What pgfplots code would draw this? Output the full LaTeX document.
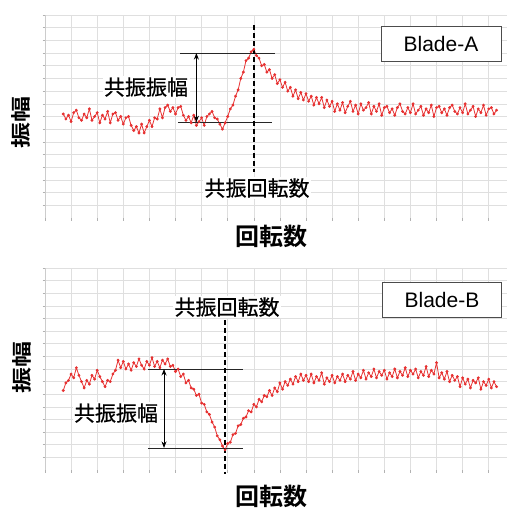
\documentclass[border=0pt]{standalone}
\usepackage{pgfplots}
\pgfplotsset{compat=1.18}
\usepackage{graphicx}
\usepackage{fontspec}
\setmainfont{Liberation Sans}
\newfontfamily\jp[BoldFont={* Bold}]{Noto Sans CJK JP}
\newfontfamily\jpm[FakeBold=0.7]{Noto Sans CJK JP}
\usetikzlibrary{arrows.meta}
\definecolor{datared}{RGB}{232,50,50}
\pgfplotsset{
  myax/.style={
    anchor=north west, scale only axis, width=462bp,
    xmin=0, xmax=17.7, ymin=0, ymax=16,
    xtick={0,...,17}, ytick={1,...,16},
    xticklabels={}, yticklabels={},
    grid=major, grid style={gray!25, line width=0.6pt},
    axis x line*=bottom, axis y line*=left,
    x axis line style={draw=none},
    y axis line style={gray!40, line width=0.6pt},
    tick style={gray!60, line width=0.6pt},
    major tick length=2.5bp, tick align=outside,
    clip=false,
  },
  dat/.style={datared, line width=0.8pt, mark=*, mark size=1pt, mark options={draw=none, fill=datared!80!black}},
}
\begin{document}
\begin{tikzpicture}
\path[use as bounding box] (0,0) rectangle (508bp,-509bp);
% ---------- top ----------
\begin{axis}[myax, at={(45bp,-15bp)}, height=203bp]
\addplot[dat] coordinates {
(0.7,8.2)(0.8,7.8)(0.9,8.1)(1.0,7.6)(1.1,8.3)(1.2,8.5)(1.3,7.9)(1.4,7.7)(1.5,8.2)(1.6,7.9)
(1.7,8.6)(1.8,7.7)(1.9,8.0)(2.0,8.3)(2.1,7.5)(2.2,8.1)(2.3,7.8)(2.4,8.4)(2.5,7.5)(2.6,8.2)
(2.7,8.3)(2.8,7.7)(2.9,8.0)(3.0,7.4)(3.1,7.9)(3.2,8.0)(3.3,7.3)(3.4,6.9)(3.5,7.2)(3.6,6.7)
(3.7,7.4)(3.8,6.7)(3.9,7.2)(4.0,7.7)(4.1,7.2)(4.2,7.9)(4.3,7.8)(4.4,8.6)(4.5,7.9)(4.6,8.7)
(4.7,8.9)(4.8,8.4)(4.9,8.7)(5.0,8.2)(5.1,8.7)(5.2,8.8)(5.3,8.1)(5.4,7.7)(5.5,8.0)(5.6,7.5)
(5.7,8.1)(5.8,7.3)(5.9,7.6)(6.0,7.9)(6.1,7.3)(6.2,8.0)(6.3,8.2)(6.4,8.4)(6.5,7.9)(6.6,7.8)
(6.7,7.4)(6.8,7.0)(6.9,7.5)(7.0,8.0)(7.1,8.6)(7.2,8.9)(7.3,9.6)(7.4,10.1)(7.5,11.0)(7.6,11.5)
(7.7,12.4)(7.8,12.6)(7.9,13.1)(8.0,13.3)(8.1,12.8)(8.2,12.6)(8.3,12.0)(8.4,12.1)(8.5,11.5)(8.6,11.7)
(8.7,11.0)(8.8,11.3)(8.9,10.6)(9.0,10.9)(9.1,10.3)(9.2,10.7)(9.3,10.0)(9.4,10.3)(9.5,9.6)(9.6,10.1)
(9.7,9.4)(9.8,9.9)(9.9,9.3)(10.0,9.8)(10.1,9.2)(10.2,9.6)(10.3,8.9)(10.4,9.5)(10.5,9.0)(10.6,9.5)
(10.7,8.7)(10.8,9.3)(10.9,8.8)(11.0,9.2)(11.1,8.4)(11.2,9.0)(11.3,8.5)(11.4,9.1)(11.5,8.3)(11.6,8.8)
(11.7,9.2)(11.8,8.4)(11.9,8.9)(12.0,8.2)(12.1,9.0)(12.2,8.5)(12.3,8.7)(12.4,9.1)(12.5,8.2)(12.6,8.8)
(12.7,8.4)(12.8,9.0)(12.9,8.1)(13.0,8.7)(13.1,8.8)(13.2,8.3)(13.3,8.6)(13.4,8.1)(13.5,8.7)(13.6,9.0)
(13.7,8.4)(13.8,8.2)(13.9,8.7)(14.0,8.3)(14.1,9.0)(14.2,8.2)(14.3,8.5)(14.4,8.8)(14.5,8.1)(14.6,8.6)
(14.7,8.3)(14.8,8.9)(14.9,8.0)(15.0,8.7)(15.1,8.8)(15.2,8.3)(15.3,8.6)(15.4,8.1)(15.5,8.7)(15.6,8.9)
(15.7,8.4)(15.8,8.2)(15.9,8.7)(16.0,8.3)(16.1,9.0)(16.2,8.2)(16.3,8.5)(16.4,8.8)(16.5,8.0)(16.6,8.6)
(16.7,8.3)(16.8,8.9)(16.9,8.1)(17.0,8.6)(17.1,8.7)(17.2,8.2)(17.3,8.5)
};
\draw[black!85, line width=0.8pt] (axis cs:5.17,13.0) -- (axis cs:8.8,13.0);
\draw[black!85, line width=0.8pt] (axis cs:5.1,7.55) -- (axis cs:8.7,7.55);
\draw[black, line width=0.8pt, {Stealth[length=6.5bp,width=5bp]}-{Stealth[length=6.5bp,width=5bp]}] (axis cs:5.8,13.0) -- (axis cs:5.8,7.55);
\draw[black, line width=1.6pt, dash pattern=on 5bp off 3bp] (axis cs:8.0,15.2) -- (axis cs:8.0,3.6);
\end{axis}
% ---------- bottom ----------
\begin{axis}[myax, at={(45bp,-268bp)}, height=202bp]
\addplot[dat] coordinates {
(0.7,6.3)(0.8,6.9)(0.9,7.1)(1.0,7.6)(1.1,7.3)(1.2,8.1)(1.3,7.5)(1.4,7.0)(1.5,6.5)(1.6,7.1)
(1.7,6.8)(1.8,7.5)(1.9,7.2)(2.0,7.9)(2.1,7.4)(2.2,7.0)(2.3,6.6)(2.4,7.1)(2.5,7.0)(2.6,7.6)
(2.7,7.9)(2.8,8.7)(2.9,8.1)(3.0,8.6)(3.1,8.0)(3.2,8.4)(3.3,7.9)(3.4,8.5)(3.5,8.2)(3.6,8.8)
(3.7,8.3)(3.8,8.0)(3.9,8.6)(4.0,8.3)(4.1,8.9)(4.2,8.2)(4.3,8.6)(4.4,8.1)(4.5,8.7)(4.6,8.4)
(4.7,8.8)(4.8,8.2)(4.9,8.3)(5.0,7.8)(5.1,8.0)(5.2,7.4)(5.3,7.6)(5.4,6.9)(5.5,7.1)(5.6,6.5)
(5.7,6.4)(5.8,5.9)(5.9,6.0)(6.0,5.3)(6.1,5.2)(6.2,4.6)(6.3,4.4)(6.4,3.8)(6.5,3.4)(6.6,2.7)
(6.7,2.4)(6.8,1.9)(6.9,1.6)(7.0,2.1)(7.1,2.2)(7.2,2.8)(7.3,2.9)(7.4,3.5)(7.5,3.6)(7.6,4.1)
(7.7,4.2)(7.8,4.7)(7.9,4.6)(8.0,5.2)(8.1,5.0)(8.2,5.6)(8.3,5.4)(8.4,5.9)(8.5,5.8)(8.6,6.3)
(8.7,5.9)(8.8,6.5)(8.9,6.2)(9.0,6.9)(9.1,6.4)(9.2,7.0)(9.3,6.7)(9.4,7.2)(9.5,6.8)(9.6,7.4)
(9.7,7.0)(9.8,7.6)(9.9,7.1)(10.0,7.5)(10.1,7.0)(10.2,7.6)(10.3,6.9)(10.4,7.4)(10.5,7.1)(10.6,7.7)
(10.7,6.8)(10.8,7.3)(10.9,7.0)(11.0,7.5)(11.1,6.9)(11.2,7.4)(11.3,7.1)(11.4,7.6)(11.5,7.0)(11.6,7.5)
(11.7,7.2)(11.8,7.8)(11.9,7.1)(12.0,7.6)(12.1,7.3)(12.2,7.9)(12.3,7.2)(12.4,7.7)(12.5,7.4)(12.6,8.0)
(12.7,7.3)(12.8,7.8)(12.9,7.5)(13.0,7.9)(13.1,7.2)(13.2,7.7)(13.3,7.4)(13.4,8.0)(13.5,7.3)(13.6,7.8)
(13.7,7.5)(13.8,8.1)(13.9,7.4)(14.0,7.9)(14.1,7.6)(14.2,8.0)(14.3,7.3)(14.4,7.8)(14.5,7.5)(14.6,8.2)
(14.7,7.4)(14.8,7.9)(14.9,7.6)(15.0,8.5)(15.1,7.3)(15.2,7.7)(15.3,7.2)(15.4,7.8)(15.5,7.0)(15.6,7.5)
(15.7,7.1)(15.8,7.4)(15.9,6.6)(16.0,7.3)(16.1,6.8)(16.2,7.2)(16.3,6.5)(16.4,7.1)(16.5,6.9)(16.6,7.3)
(16.7,6.4)(16.8,7.0)(16.9,6.7)(17.0,7.2)(17.1,6.5)(17.2,7.0)(17.3,6.6)
};
\draw[black!85, line width=0.8pt] (axis cs:3.95,8.0) -- (axis cs:7.6,8.0);
\draw[black!85, line width=0.8pt] (axis cs:3.95,1.75) -- (axis cs:7.6,1.75);
\draw[black, line width=0.8pt, {Stealth[length=6.5bp,width=5bp]}-{Stealth[length=6.5bp,width=5bp]}] (axis cs:4.56,8.0) -- (axis cs:4.56,1.75);
\draw[black, line width=1.6pt, dash pattern=on 5bp off 3bp] (axis cs:6.9,11.9) -- (axis cs:6.9,-0.3);
\end{axis}
% ---------- texts ----------
\tikzset{lab/.style={font=\jpm\fontsize{21bp}{24bp}\selectfont, inner sep=1.5bp, fill=white, text=black}}
\node[lab] at (146bp,-87bp) {共振振幅};
\node[lab] at (257bp,-188bp) {共振回転数};
\node[lab] at (116bp,-413bp) {共振振幅};
\node[lab] at (227bp,-307bp) {共振回転数};
\node[font=\jp\bfseries\fontsize{24bp}{26bp}\selectfont, text=black] at (271bp,-236bp) {回転数};
\node[font=\jp\bfseries\fontsize{24bp}{26bp}\selectfont, text=black] at (271bp,-496bp) {回転数};
\node[font=\jp\bfseries\fontsize{20bp}{22bp}\selectfont, rotate=90, text=black] at (21bp,-122bp) {\scalebox{1.3}[1]{振幅}};
\node[font=\jp\bfseries\fontsize{20bp}{22bp}\selectfont, rotate=90, text=black] at (22bp,-367bp) {\scalebox{1.3}[1]{振幅}};
\node[draw=black!70, line width=0.9pt, fill=white, minimum width=120bp, minimum height=35bp, font=\fontsize{21bp}{24bp}\selectfont] at (441bp,-43.5bp) {Blade-A};
\node[draw=black!70, line width=0.9pt, fill=white, minimum width=119bp, minimum height=35bp, font=\fontsize{21bp}{24bp}\selectfont] at (442bp,-299.5bp) {Blade-B};
\end{tikzpicture}
\end{document}
